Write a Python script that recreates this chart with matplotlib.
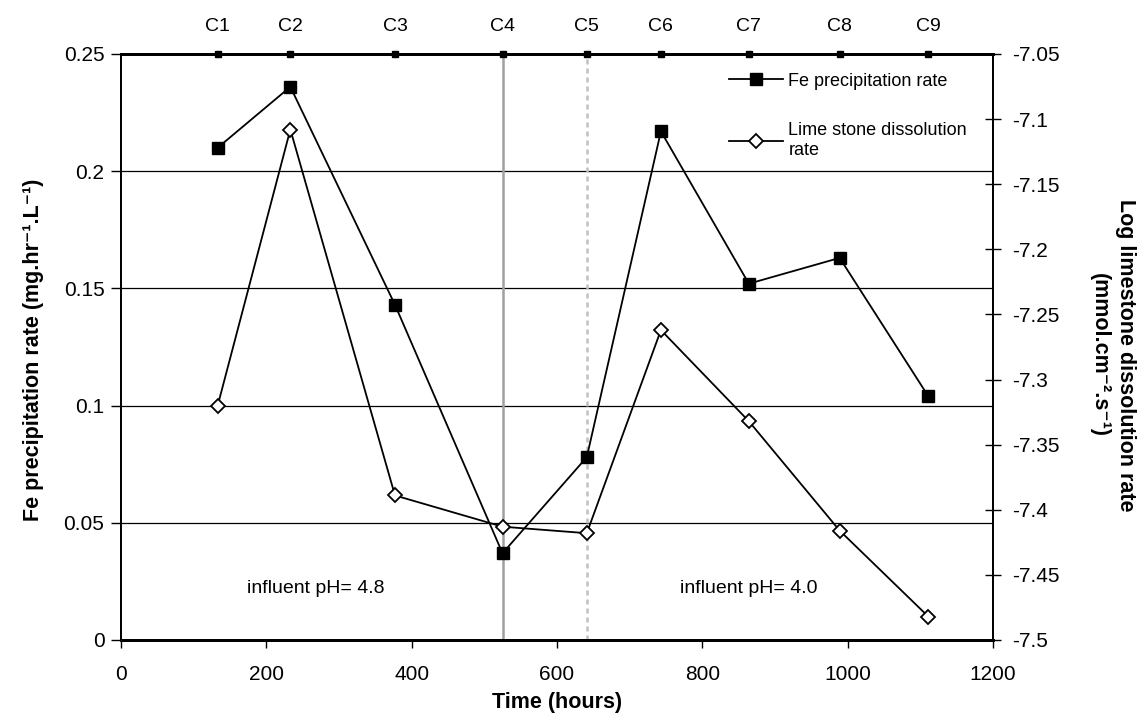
import matplotlib.pyplot as plt
import numpy as np
from matplotlib.lines import Line2D

plt.rcParams['font.family'] = ['Liberation Sans', 'DejaVu Sans']

# sampling campaigns (hours)
conditions = ["C1", "C2", "C3", "C4", "C5", "C6", "C7", "C8", "C9"]
time_h = [133, 233, 377, 525, 641, 743, 864, 989, 1111]

# Fe precipitation rate (mg.hr-1.L-1), left axis
fe_rate = [0.210, 0.236, 0.143, 0.037, 0.078, 0.217, 0.152, 0.163, 0.104]

# log limestone dissolution rate, right axis
lime_rate = [-7.320, -7.108, -7.389, -7.413, -7.418, -7.262, -7.332, -7.416, -7.482]

# pH change marks
ph_change_1 = 525
ph_change_2 = 641

fig, ax = plt.subplots(figsize=(11.42, 7.13), dpi=100)
fig.subplots_adjust(left=0.106, right=0.8695, bottom=0.1024, top=0.9243)
ax2 = ax.twinx()

fs = 15

ax.set_xlim(0, 1200)
ax.set_ylim(0, 0.25)
ax2.set_ylim(-7.5, -7.05)

ax.set_xticks(np.arange(0, 1201, 200))
l_ticks = np.arange(0, 0.251, 0.05)
ax.set_yticks(l_ticks)
ax.set_yticklabels([f"{round(v, 2):g}" for v in l_ticks])
r_ticks = np.linspace(-7.5, -7.05, 10)
ax2.set_yticks(r_ticks)
ax2.set_yticklabels([f"{round(v, 2):g}" for v in r_ticks])

ax.tick_params(axis='y', labelsize=fs, direction='out', length=7, width=1, pad=5)
ax.tick_params(axis='x', labelsize=fs, direction='out', length=6, width=1, pad=12)
ax2.tick_params(axis='y', labelsize=fs, direction='inout', length=12, width=1, pad=8)

# horizontal gridlines
for v in [0.05, 0.10, 0.15, 0.20]:
    ax.axhline(v, color='black', lw=0.9, zorder=1)

ax.axvline(ph_change_1, color='#a0a0a0', lw=1.8, zorder=1.5)
ax.axvline(ph_change_2, color='#c0c0c0', lw=1.8, dashes=(2, 1.6), zorder=1.5)

for sp in ['left', 'right']:
    ax.spines[sp].set_linewidth(1.3)
    ax2.spines[sp].set_linewidth(1.3)
for a in (ax, ax2):
    a.spines['bottom'].set_linewidth(2)
    a.spines['top'].set_linewidth(2)

# campaign markers along the top
ax.plot(time_h, [0.25] * len(time_h), ls='none', marker='s', ms=5,
        color='black', clip_on=False, zorder=5)
for t, c in zip(time_h, conditions):
    ax.annotate(c, (t, 0.25), xytext=(0, 20), textcoords='offset points',
                ha='center', va='center', fontsize=14, annotation_clip=False)

ax.plot(time_h, fe_rate, color='black', lw=1.3, marker='s', ms=8.5,
        mfc='black', mec='black', zorder=4)
ax2.plot(time_h, lime_rate, color='black', lw=1.3, marker='D', ms=7,
         mfc='white', mec='black', mew=1.3, zorder=4)

ax.text(268, 0.022, "influent pH= 4.8", ha='center', va='center', fontsize=14)
ax.text(864, 0.022, "influent pH= 4.0", ha='center', va='center', fontsize=14)

ax.set_xlabel("Time (hours)", fontsize=15.5, fontweight='bold')
ax.xaxis.label.set_va('center')
ax.xaxis.set_label_coords(0.5, -0.106)
ax.set_ylabel("Fe precipitation rate (mg.hr⁻¹.L⁻¹)", fontsize=15.5, fontweight='bold')
ax.yaxis.set_label_coords(-0.088, 0.495)
ax2.set_ylabel("Log limestone dissolution rate\n(mmol.cm⁻².s⁻¹)",
               fontsize=15.5, fontweight='bold', rotation=270, va='center',
               linespacing=1.3)
ax2.yaxis.set_label_coords(1.137, 0.486)

handles = [
    Line2D([], [], color='black', lw=1.3, marker='s', ms=8.5),
    Line2D([], [], color='black', lw=1.3, marker='D', ms=7, mfc='white', mew=1.3),
]
ax2.legend(handles, ["Fe precipitation rate", "Lime stone dissolution\nrate"],
           loc='upper left', bbox_to_anchor=(0.697, 0.968), frameon=False,
           fontsize=13, handlelength=3.0, handletextpad=0.3, labelspacing=1.8,
           borderpad=0, borderaxespad=0)

plt.savefig("out.png", dpi=100)
